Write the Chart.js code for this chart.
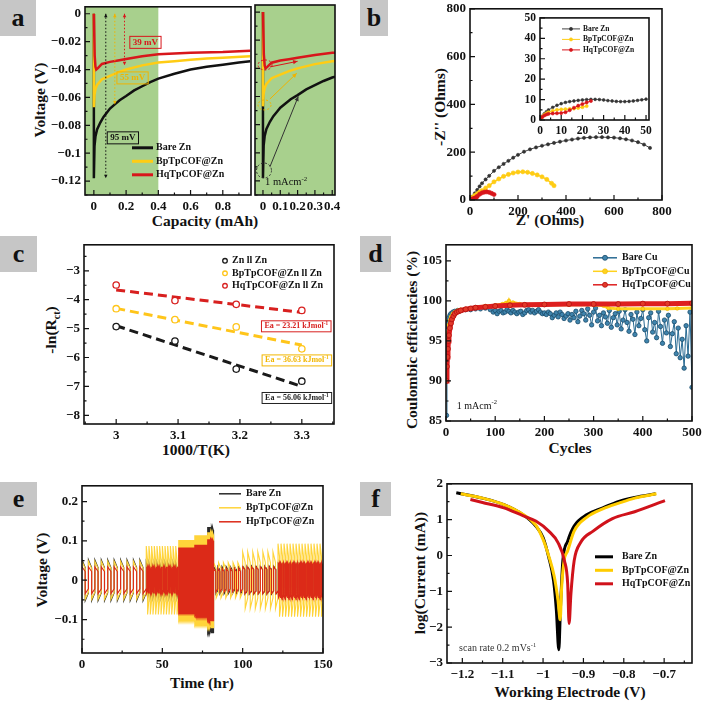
<!DOCTYPE html>
<html>
<head>
<meta charset="utf-8">
<script src="https://cdn.jsdelivr.net/npm/chart.js@4.4.1/dist/chart.umd.min.js"></script>
<style>
  html, body { margin: 0; padding: 0; background: #fff; }
  #page { position: relative; width: 705px; height: 706px; overflow: hidden; font-family: "Liberation Serif", "Times New Roman", serif; }
  #page canvas { position: absolute; }
  .tag { position: absolute; background: #c6c6c6; color: #111; font-weight: bold; font-size: 26px; display: flex; align-items: center; justify-content: center; }
  .ttl { position: absolute; color: #111; font-weight: bold; font-size: 15.5px; white-space: nowrap; transform: translate(-50%, -50%); }
  .ttl.rot { transform: translate(-50%, -50%) rotate(-90deg); }
  .ttl sub { font-size: 10px; }
</style>
</head>
<body>
<div id="page">
  <div class="tag" style="left:0;top:0;width:36px;height:36px">a</div>
  <div class="tag" style="left:360px;top:0;width:28px;height:36px">b</div>
  <div class="tag" style="left:0;top:236px;width:37px;height:36px">c</div>
  <div class="tag" style="left:360px;top:236px;width:31px;height:36px">d</div>
  <div class="tag" style="left:0;top:482px;width:37px;height:34px">e</div>
  <div class="tag" style="left:360px;top:482px;width:31px;height:34px">f</div>

  <div class="ttl rot" style="left:40px;top:100px">Voltage (V)</div>
  <div class="ttl" style="left:205px;top:221px">Capacity (mAh)</div>
  <div class="ttl rot" style="left:440px;top:107px">-Z'' (Ohms)</div>
  <div class="ttl" style="left:550px;top:220px">Z' (Ohms)</div>
  <div class="ttl rot" style="left:52px;top:330px">-ln(R<sub>ct</sub>)</div>
  <div class="ttl" style="left:196px;top:450px">1000/T(K)</div>
  <div class="ttl rot" style="left:412px;top:340px">Coulombic efficiencies (%)</div>
  <div class="ttl" style="left:570px;top:448px">Cycles</div>
  <div class="ttl rot" style="left:42px;top:570px">Voltage (V)</div>
  <div class="ttl" style="left:202px;top:683px">Time (hr)</div>
  <div class="ttl rot" style="left:420px;top:573px">log(Current (mA))</div>
  <div class="ttl" style="left:570px;top:692px">Working Electrode (V)</div>
</div>
<script>
// ---- (a) galvanostatic voltage vs capacity ----
const capBare = [0, 0, 0.004, 0.01, 0.02, 0.04, 0.06, 0.08, 0.1, 0.13, 0.16, 0.2, 0.25, 0.3, 0.35, 0.4, 0.5, 0.6, 0.7, 0.8, 0.9, 0.97];
const voltBare = [0, -0.118, -0.095, -0.088, -0.083, -0.078, -0.074, -0.071, -0.068, -0.065, -0.062, -0.059, -0.055, -0.052, -0.049, -0.0465, -0.043, -0.040, -0.038, -0.0365, -0.035, -0.034];
const capBp = [0, 0, 0.004, 0.01, 0.02, 0.05, 0.1, 0.15, 0.2, 0.3, 0.4, 0.5, 0.6, 0.7, 0.8, 0.97];
const voltBp = [0, -0.067, -0.058, -0.054, -0.051, -0.047, -0.0445, -0.042, -0.040, -0.037, -0.035, -0.034, -0.033, -0.032, -0.0315, -0.0305];
const capHq = [0, 0.005, 0.01, 0.015, 0.025, 0.05, 0.1, 0.15, 0.2, 0.3, 0.4, 0.5, 0.6, 0.8, 0.97];
const voltHq = [0, -0.030, -0.038, -0.040, -0.039, -0.036, -0.0345, -0.0335, -0.0325, -0.0305, -0.029, -0.0285, -0.028, -0.0275, -0.0265];

// ---- (b) Nyquist plots ----
const bareZ = [0, 5, 10, 20, 30, 40, 50, 65, 80, 100, 120, 140, 160, 180, 200, 225, 250, 275, 300, 325, 350, 375, 400, 425, 450, 475, 500, 525, 550, 575, 600, 625, 650, 675, 700, 725, 750];
const bareZi = [0, 7, 14, 28, 42, 57, 70, 86, 101, 122, 137, 151, 164, 177, 189, 202, 212, 220, 227, 233, 239, 244, 249, 253, 257, 260, 262, 263, 263, 262, 261, 258, 254, 249, 242, 232, 218];
const bpZ = [0, 5, 10, 20, 30, 40, 50, 65, 80, 100, 120, 140, 160, 180, 200, 220, 240, 260, 280, 300, 320, 340, 350];
const bpZi = [0, 6, 11, 19, 26, 33, 39, 50, 60, 76, 88, 99, 107, 113, 117, 118, 116, 111, 105, 97, 86, 70, 60];
const hqZ = [0, 3, 6, 10, 15, 20, 25, 30, 40, 50, 60, 70, 80, 90, 100];
const hqZi = [0, 3, 3.3, 3.4, 5.5, 7.8, 9.5, 15, 24, 30, 33, 34, 32, 28, 23];
// inset (0-50 Ohm)
const insetBareZ = [0, 1, 2, 3, 4, 6, 8, 10, 12, 14, 16, 18, 20, 22, 24, 26, 28, 30, 32, 34, 36, 38, 40, 42, 44, 46, 48, 50];
const insetBareZi = [0, 1.8, 3, 4, 4.9, 6.2, 7.2, 8, 8.6, 9, 9.3, 9.6, 9.8, 10, 10.1, 10.1, 10, 9.8, 9.5, 9.3, 9.1, 9.0, 9.0, 9.1, 9.3, 9.6, 9.9, 10.2];
const insetBpZ = [0, 1, 2, 3, 4, 6, 8, 10, 12, 14, 16, 18, 20, 22];
const insetBpZi = [0, 1.5, 2.5, 3.2, 3.8, 4.5, 5, 5.2, 5.3, 5.4, 5.6, 5.9, 6.3, 6.8];
const insetHqZ = [0, 1, 2, 3, 4, 6, 8, 10, 12, 14, 16, 18, 20, 22, 24];
const insetHqZi = [0, 1.4, 2.2, 2.7, 3, 3.2, 3.3, 3.4, 3.8, 4.8, 6, 7, 7.8, 8.6, 9.3];

// ---- (c) Arrhenius ----
const invT = [3.0, 3.095, 3.194, 3.3];
const lnZn = [-4.93, -5.43, -6.40, -6.82];
const lnBp = [-4.31, -4.69, -4.94, -5.70];
const lnHq = [-3.49, -4.03, -4.16, -4.37];
const fitT = [3.0, 3.3];
const fitZn = [-4.90, -7.00];
const fitBp = [-4.30, -5.57];
const fitHq = [-3.66, -4.44];

// ---- (d) Coulombic efficiency ----
const cycBareEarly = [1, 2, 3, 4, 6, 8, 10, 14, 18, 24, 30, 40, 50, 60, 70, 80, 90];
const ceBareEarly = [85.7, 95.8, 96.8, 97.4, 97.9, 98.2, 98.4, 98.6, 98.7, 98.8, 98.8, 98.9, 98.9, 99.0, 99.0, 99.1, 98.9];
// every 4th cycle from cycle 96 to 500
const ceBareLate = [
  98.6, 98.8, 98.4, 98.7, 98.8, 98.5, 98.6, 98.9, 98.7, 98.5, 98.8, 98.6,
  98.4, 98.6, 98.7, 98.3, 98.5, 98.8, 98.9, 98.6, 98.8, 98.5, 98.7, 98.9, 98.6, 98.4, 98.5,
  98.3, 98.6, 98.4, 97.9, 98.2, 98.5, 98.0, 98.6, 98.3, 97.8, 98.1, 98.4,
  97.6, 98.3, 97.9, 98.7, 97.4, 98.1, 98.8, 98.4, 97.6, 99.0, 98.2, 97.0, 98.6,
  99.1, 97.5, 98.2, 96.9, 98.5, 98.0, 97.2, 98.8, 96.7, 97.9, 98.4, 97.0,
  98.7, 96.5, 97.6, 98.9, 97.3, 96.2, 98.3, 97.7, 95.8, 98.6, 96.9, 97.8, 98.9,
  96.4, 95.0, 97.9, 98.5, 96.1, 97.3, 95.4, 98.7, 96.8, 94.7, 97.6, 96.0,
  98.2, 94.3, 95.9, 97.4, 93.4, 96.6, 92.9, 95.2, 91.6, 96.9, 93.1, 98.6, 89.2
];
const cycBp = [1, 2, 3, 4, 6, 8, 10, 14, 18, 24, 30, 40, 60, 80, 100, 115, 122, 126, 128, 131, 136, 150, 170, 200, 250, 300, 320, 330, 350, 400, 450, 470, 500];
const ceBp = [91.0, 94.0, 95.2, 96.0, 97.0, 97.6, 98.0, 98.4, 98.6, 98.8, 98.9, 99.0, 99.2, 99.35, 99.45, 99.6, 99.75, 99.7, 100.0, 99.6, 99.8, 99.6, 99.5, 99.5, 99.5, 99.5, 99.4, 99.1, 99.0, 99.0, 99.0, 99.05, 99.1];
const cycHq = [1, 2, 3, 4, 5, 6, 8, 10, 12, 15, 18, 22, 26, 30, 40, 50, 60, 80, 100, 130, 160, 200, 250, 300, 350, 400, 450, 500];
const ceHq = [90.0, 91.8, 93.0, 94.0, 95.0, 95.7, 96.6, 97.2, 97.7, 98.1, 98.4, 98.6, 98.7, 98.8, 98.95, 99.05, 99.15, 99.25, 99.35, 99.45, 99.5, 99.55, 99.6, 99.6, 99.6, 99.65, 99.65, 99.7];

// ---- (e) rate cycling: segments in hours, cycles per segment, spike / plateau voltage ----
const eSegStart = [0, 40, 60, 70, 78, 82, 100, 122];
const eSegEnd = [40, 60, 70, 78, 82, 100, 122, 150];
const eBareCycles = [10, 12, 16, 13, 6, 7, 8, 15];
const eBpCycles = [10, 12, 16, 13, 6, 6, 7, 15];
const eHqCycles = [10, 26, 16, 13, 6, 7, 8, 32];
const eBarePeak = [0.052, 0.045, 0.065, 0.075, 0.135, 0.035, 0.036, 0.042];
const eBarePlat = [0.032, 0.032, 0.060, 0.070, 0.128, 0.026, 0.028, 0.034];
const eBpPeak = [0.048, 0.087, 0.102, 0.114, 0.122, 0.045, 0.072, 0.093];
const eBpPlat = [0.030, 0.050, 0.095, 0.108, 0.116, 0.030, 0.045, 0.060];
const eHqPeak = [0.034, 0.034, 0.083, 0.090, 0.104, 0.030, 0.034, 0.045];
const eHqPlat = [0.022, 0.028, 0.078, 0.086, 0.100, 0.022, 0.027, 0.040];

// ---- (f) Tafel ----
const eBare = [-1.215, -1.15, -1.097, -1.05, -1.018, -1.0, -0.986, -0.974, -0.967, -0.961, -0.957, -0.951, -0.939, -0.923, -0.891, -0.852, -0.812, -0.773, -0.721];
const logBare = [1.75, 1.6, 1.42, 1.14, 0.82, 0.5, -0.05, -0.7, -1.53, -2.63, -1.5, -0.15, 0.4, 0.82, 1.14, 1.33, 1.51, 1.62, 1.72];
const eBp = [-1.204, -1.15, -1.097, -1.05, -1.018, -1.0, -0.986, -0.972, -0.963, -0.9575, -0.954, -0.948, -0.939, -0.923, -0.891, -0.852, -0.812, -0.773, -0.719];
const logBp = [1.72, 1.6, 1.42, 1.15, 0.85, 0.45, -0.01, -0.6, -1.25, -1.79, -0.9, -0.15, 0.13, 0.68, 1.07, 1.3, 1.46, 1.6, 1.72];
const eHq = [-1.18, -1.15, -1.097, -1.05, -1.018, -0.986, -0.963, -0.947, -0.939, -0.9355, -0.931, -0.923, -0.907, -0.876, -0.828, -0.773, -0.698];
const logHq = [1.56, 1.48, 1.33, 1.11, 0.96, 0.68, 0.36, -0.15, -0.79, -1.9, -1.07, -0.15, 0.36, 0.68, 1.03, 1.22, 1.53];

const SERIF = '"Liberation Serif", "Times New Roman", serif';
const INK = '#111';
const RED = '#d8161b';
const YEL = '#ffcc14';
const GREEN = '#a8d08d';
const BLUE = '#2a6b93';

Chart.defaults.font.family = SERIF;

const fmt = v => String(+v.toFixed(4)).replace('-', '\u2212');
const xy = (xs, ys) => xs.map((x, i) => ({x, y: ys[i]}));

// rich text: parts = [[text, isSuperscript], ...]
function richWidth(ctx, parts, size, weight) {
  let w = 0;
  parts.forEach(([t, sup]) => {
    ctx.font = `${weight} ${sup ? size * 0.65 : size}px ${SERIF}`;
    w += ctx.measureText(t).width;
  });
  return w;
}
function drawRich(ctx, parts, x, y, size, weight, color) {
  ctx.fillStyle = color;
  ctx.textBaseline = 'middle';
  ctx.textAlign = 'left';
  parts.forEach(([t, sup]) => {
    ctx.font = `${weight} ${sup ? size * 0.65 : size}px ${SERIF}`;
    ctx.fillText(t, x, sup ? y - size * 0.35 : y);
    x += ctx.measureText(t).width;
  });
}
function arrowHead(ctx, x0, y0, x1, y1, s) {
  const a = Math.atan2(y1 - y0, x1 - x0);
  ctx.beginPath();
  ctx.moveTo(x1, y1);
  ctx.lineTo(x1 - s * Math.cos(a - 0.45), y1 - s * Math.sin(a - 0.45));
  ctx.lineTo(x1 - s * Math.cos(a + 0.45), y1 - s * Math.sin(a + 0.45));
  ctx.closePath();
  ctx.fill();
}

// inward ticks (major + minor) and box frame
const framePlugin = {
  id: 'frame',
  afterDatasetsDraw(chart) {
    const {ctx, chartArea: a, scales} = chart;
    const marks = s => {
      const v = s.ticks.map(t => t.value);
      const out = v.map(t => [t, 5]);
      if (v.length > 1) {
        const st = v[1] - v[0];
        for (let m = v[0] - st / 2; m <= s.max; m += st) if (m >= s.min) out.push([m, 2.5]);
      }
      return out;
    };
    ctx.save();
    ctx.strokeStyle = INK;
    ctx.lineWidth = 1.2;
    ctx.beginPath();
    marks(scales.x).forEach(([v, len]) => {
      const p = scales.x.getPixelForValue(v);
      ctx.moveTo(p, a.bottom); ctx.lineTo(p, a.bottom - len);
    });
    marks(scales.y).forEach(([v, len]) => {
      const p = scales.y.getPixelForValue(v);
      ctx.moveTo(a.left, p); ctx.lineTo(a.left + len, p);
    });
    ctx.stroke();
    ctx.lineWidth = 1.6;
    ctx.strokeRect(a.left, a.top, a.right - a.left, a.bottom - a.top);
    ctx.restore();
  }
};

// annotations in data coordinates
function drawNotes(chart, under) {
  const list = chart.canvas.notes;
  if (!list) return;
  const {ctx, chartArea: a, scales: {x: sx, y: sy}} = chart;
  const X = v => sx.getPixelForValue(v), Y = v => sy.getPixelForValue(v);
  ctx.save();
  list.forEach(n => {
    if ((n.type === 'band') !== under) return;
    ctx.setLineDash([]);
    if (n.type === 'band') {
      const x0 = Math.max(a.left, X(n.from)), x1 = Math.min(a.right, X(n.to));
      ctx.fillStyle = n.color;
      ctx.fillRect(x0, a.top, x1 - x0, a.bottom - a.top);
    } else if (n.type === 'vspan') {
      const x = X(n.x), y0 = Y(n.y0), y1 = Y(n.y1);
      ctx.strokeStyle = n.color; ctx.fillStyle = n.color; ctx.lineWidth = 1;
      ctx.setLineDash([1.5, 2]);
      ctx.beginPath(); ctx.moveTo(x, y0); ctx.lineTo(x, y1); ctx.stroke();
      ctx.setLineDash([]);
      arrowHead(ctx, x, y1, x, y0, 4);
      arrowHead(ctx, x, y0, x, y1, 4);
    } else if (n.type === 'arrow') {
      const x0 = X(n.x0), y0 = Y(n.y0), x1 = X(n.x1), y1 = Y(n.y1);
      ctx.strokeStyle = n.color; ctx.fillStyle = n.color; ctx.lineWidth = 1;
      ctx.beginPath(); ctx.moveTo(x0, y0); ctx.lineTo(x1, y1); ctx.stroke();
      arrowHead(ctx, x0, y0, x1, y1, 5);
    } else if (n.type === 'ellipse') {
      ctx.strokeStyle = n.color; ctx.lineWidth = 1;
      ctx.setLineDash([2, 2]);
      ctx.beginPath(); ctx.ellipse(X(n.x), Y(n.y), n.rx, n.ry, 0, 0, Math.PI * 2); ctx.stroke();
    } else if (n.type === 'box') {
      const w = richWidth(ctx, n.parts, n.size, 'bold');
      const cx = X(n.x), cy = Y(n.y), h = n.size + 3;
      if (n.fill) { ctx.fillStyle = n.fill; ctx.fillRect(cx - w / 2 - 3, cy - h / 2, w + 6, h); }
      ctx.strokeStyle = n.color; ctx.lineWidth = 1;
      ctx.strokeRect(cx - w / 2 - 3, cy - h / 2, w + 6, h);
      drawRich(ctx, n.parts, cx - w / 2, cy, n.size, 'bold', n.color);
    } else if (n.type === 'text') {
      drawRich(ctx, n.parts, X(n.x), Y(n.y), n.size, 'normal', n.color);
    }
  });
  ctx.restore();
}
const notesPlugin = {
  id: 'notes',
  beforeDatasetsDraw(chart) { drawNotes(chart, true); },
  afterDatasetsDraw(chart) { drawNotes(chart, false); }
};

// legend placed inside the plot box
const keyPlugin = {
  id: 'key',
  afterDraw(chart) {
    const k = chart.canvas.key;
    if (!k) return;
    const {ctx, chartArea: a} = chart;
    const area = chart.canvas.area;
    const x0 = a.left + (k.x - area.l);
    let y = a.top + (k.y - area.t);
    ctx.save();
    chart.data.datasets.forEach(ds => {
      if (ds.noKey) return;
      if (k.mode !== 'dot') {
        ctx.strokeStyle = ds.borderColor; ctx.lineWidth = k.lw;
        ctx.beginPath(); ctx.moveTo(x0, y); ctx.lineTo(x0 + k.len, y); ctx.stroke();
      }
      if (k.mode !== 'line') {
        ctx.beginPath(); ctx.arc(x0 + k.len / 2, y, k.r, 0, Math.PI * 2);
        ctx.fillStyle = ds.pointBackgroundColor || ds.borderColor; ctx.fill();
        ctx.lineWidth = ds.pointBorderWidth || 1; ctx.strokeStyle = ds.pointBorderColor || ds.borderColor; ctx.stroke();
      }
      ctx.font = `bold ${k.size}px ${SERIF}`;
      ctx.fillStyle = INK; ctx.textBaseline = 'middle'; ctx.textAlign = 'left';
      ctx.fillText(ds.label, x0 + k.len + k.gap, y);
      y += k.dy;
    });
    ctx.restore();
  }
};

Chart.register(framePlugin, notesPlugin, keyPlugin);

function axis(min, max, step, show = true, size = 13) {
  return {
    type: 'linear', min, max,
    grid: {display: false, drawTicks: false},
    border: {display: false},
    ticks: {
      display: show, stepSize: step, includeBounds: false, autoSkip: false, maxRotation: 0, padding: 4,
      color: INK, font: {family: SERIF, size, weight: 'bold'}, callback: v => fmt(v)
    }
  };
}

function line(label, data, color, width, order, more) {
  return Object.assign({label, data, borderColor: color, backgroundColor: color, borderWidth: width,
    pointRadius: 0, order, fill: false}, more || {});
}

const page = document.getElementById('page');
// area = plot box in page pixels; the canvas is sized so the chart area lands exactly there
function makeChart(area, cfg, extra) {
  const yW = area.yW !== undefined ? area.yW : 45;
  const xH = area.xH !== undefined ? area.xH : 22;
  const pad = Object.assign({left: 0, top: 10, right: 16, bottom: 0}, area.pad || {});
  const cw = area.r - area.l + yW + pad.left + pad.right;
  const ch = area.b - area.t + xH + pad.top + pad.bottom;
  const cv = document.createElement('canvas');
  cv.width = cw; cv.height = ch;
  cv.style.left = (area.l - yW - pad.left) + 'px';
  cv.style.top = (area.t - pad.top) + 'px';
  cv.style.width = cw + 'px'; cv.style.height = ch + 'px';
  page.appendChild(cv);
  cv.area = area;
  cv.key = extra && extra.key;
  cv.notes = extra && extra.notes;
  const o = cfg.options;
  o.responsive = false;
  o.animation = false;
  o.devicePixelRatio = 1;
  o.layout = {padding: pad};
  o.plugins = {legend: {display: false}, tooltip: {enabled: false}};
  o.scales.x.afterFit = s => { s.height = xH; };
  o.scales.y.afterFit = s => { s.width = yW; };
  return new Chart(cv, cfg);
}

// (a) left
makeChart({l: 85, t: 5, r: 251, b: 195}, {
  type: 'line',
  data: {datasets: [
    line('Bare Zn', xy(capBare, voltBare), INK, 2.5, 2),
    line('BpTpCOF@Zn', xy(capBp, voltBp), YEL, 2.5, 1),
    line('HqTpCOF@Zn', xy(capHq, voltHq), RED, 2.5, 0)
  ]},
  options: {scales: {x: axis(-0.055, 0.975, 0.2), y: axis(-0.13, 0.005, 0.02)}}
}, {
  key: {x: 132, y: 146, dy: 13.5, len: 21, gap: 3, size: 10, lw: 3, mode: 'line'},
  notes: [
    {type: 'band', from: -1, to: 0.4, color: GREEN},
    {type: 'vspan', x: 0.074, y0: 0, y1: -0.118, color: INK},
    {type: 'vspan', x: 0.13, y0: 0, y1: -0.065, color: '#f0b400'},
    {type: 'vspan', x: 0.19, y0: 0, y1: -0.037, color: RED},
    {type: 'box', x: 0.32, y: -0.0205, parts: [['39 mV']], size: 9, color: RED},
    {type: 'box', x: 0.24, y: -0.046, parts: [['55 mV']], size: 9, color: '#f0b400'},
    {type: 'box', x: 0.18, y: -0.089, parts: [['95 mV']], size: 9, color: INK}
  ]
});

// (a) right, zoom of the first 0.4 mAh
makeChart({l: 255, t: 5, r: 335, b: 195, yW: 0, pad: {left: 6}}, {
  type: 'line',
  data: {datasets: [
    line('Bare Zn', xy(capBare, voltBare), INK, 2.5, 2),
    line('BpTpCOF@Zn', xy(capBp, voltBp), YEL, 2.5, 1),
    line('HqTpCOF@Zn', xy(capHq, voltHq), RED, 2.5, 0)
  ]},
  options: {scales: {x: axis(-0.046, 0.416, 0.1), y: axis(-0.13, 0.005, 0.02, false)}}
}, {
  notes: [
    {type: 'band', from: -1, to: 1, color: GREEN},
    {type: 'ellipse', x: 0.012, y: -0.0376, rx: 7, ry: 5, color: RED},
    {type: 'arrow', x0: 0.04, y0: -0.039, x1: 0.2, y1: -0.035, color: RED},
    {type: 'ellipse', x: 0.009, y: -0.066, rx: 6.5, ry: 5, color: '#f0b400'},
    {type: 'arrow', x0: 0.04, y0: -0.0618, x1: 0.195, y1: -0.0435, color: '#f0b400'},
    {type: 'ellipse', x: 0.006, y: -0.1126, rx: 7.5, ry: 7.5, color: '#333'},
    {type: 'arrow', x0: 0.04, y0: -0.11, x1: 0.204, y1: -0.06, color: '#333'},
    {type: 'text', x: 0.012, y: -0.1212, parts: [['1 mAcm'], ['-2', 1]], size: 10.5, color: INK}
  ]
});

// (b) Nyquist
const dotted = (c, r) => ({pointRadius: r, pointBackgroundColor: c, pointBorderColor: c, pointBorderWidth: 0.6});
makeChart({l: 470, t: 7, r: 662, b: 200}, {
  type: 'line',
  data: {datasets: [
    line('Bare Zn', xy(bareZ, bareZi), '#444', 1, 2, dotted('#333', 1.6)),
    line('BpTpCOF@Zn', xy(bpZ, bpZi), YEL, 1.5, 1, dotted(YEL, 2.1)),
    line('HqTpCOF@Zn', xy(hqZ, hqZi), RED, 1.5, 0, dotted(RED, 2.1))
  ]},
  options: {scales: {x: axis(0, 800, 200), y: axis(0, 800, 200)}}
});
makeChart({l: 540, t: 13, r: 649, b: 120, yW: 20, xH: 16, pad: {top: 6, right: 8}}, {
  type: 'line',
  data: {datasets: [
    line('Bare Zn', xy(insetBareZ, insetBareZi), '#444', 0.8, 2, dotted('#333', 1.4)),
    line('BpTpCOF@Zn', xy(insetBpZ, insetBpZi), YEL, 1, 1, dotted(YEL, 1.6)),
    line('HqTpCOF@Zn', xy(insetHqZ, insetHqZi), RED, 1, 0, dotted(RED, 1.6))
  ]},
  options: {scales: {x: axis(0, 51.4, 10, true, 11.5), y: axis(0, 50, 10, true, 11.5)}}
}, {
  key: {x: 562, y: 24, dy: 10.5, len: 18, gap: 3, size: 7.5, lw: 1, r: 1.6, mode: 'linedot'}
});

// (c) Arrhenius
const open = c => ({showLine: false, pointRadius: 3.2, pointBorderWidth: 1.3, pointBorderColor: c, pointBackgroundColor: '#fff'});
const dash = {borderDash: [9, 5], noKey: true};
makeChart({l: 84, t: 243, r: 334, b: 424}, {
  type: 'line',
  data: {datasets: [
    line('Zn ll Zn', xy(invT, lnZn), '#1a1a1a', 1, 0, open('#1a1a1a')),
    line('BpTpCOF@Zn ll Zn', xy(invT, lnBp), '#ffc51a', 1, 0, open('#ffc51a')),
    line('HqTpCOF@Zn ll Zn', xy(invT, lnHq), '#d8201f', 1, 0, open('#d8201f')),
    line('fit Zn', xy(fitT, fitZn), '#1a1a1a', 3, 1, dash),
    line('fit Bp', xy(fitT, fitBp), '#ffc51a', 3, 1, dash),
    line('fit Hq', xy(fitT, fitHq), '#d8201f', 3, 1, dash)
  ]},
  options: {scales: {x: axis(2.948, 3.352, 0.1), y: axis(-8.3, -2.1, 1)}}
}, {
  key: {x: 222, y: 259, dy: 12.5, len: 6, gap: 4, size: 10, r: 2.3, mode: 'dot'},
  notes: [
    {type: 'box', x: 3.291, y: -4.92, parts: [['Ea = 23.21 kJmol'], ['-1', 1]], size: 8, color: '#d8201f', fill: '#fff'},
    {type: 'box', x: 3.292, y: -6.10, parts: [['Ea = 36.63 kJmol'], ['-1', 1]], size: 8, color: '#f2b600', fill: '#fff'},
    {type: 'box', x: 3.292, y: -7.40, parts: [['Ea = 56.06 kJmol'], ['-1', 1]], size: 8, color: '#222', fill: '#fff'}
  ]
});

// (d) Coulombic efficiency
const bareCE = xy(cycBareEarly, ceBareEarly).concat(ceBareLate.map((v, i) => ({x: 96 + 4 * i, y: v})));
makeChart({l: 446, t: 243, r: 692, b: 421}, {
  type: 'line',
  data: {datasets: [
    line('Bare Cu', bareCE, BLUE, 1, 2, {pointRadius: 2.2, pointBackgroundColor: '#3f84ad', pointBorderColor: '#1c4d6b', pointBorderWidth: 0.8}),
    line('BpTpCOF@Cu', xy(cycBp, ceBp), '#ffd21f', 3, 1, {pointRadius: 1.8, pointBackgroundColor: '#ffd21f', pointBorderColor: '#f0b800', pointBorderWidth: 0.6}),
    line('HqTpCOF@Cu', xy(cycHq, ceHq), '#de1f1f', 5, 0, {pointRadius: 2.5, pointBackgroundColor: '#e23a2a', pointBorderColor: '#b50f0f', pointBorderWidth: 0.8})
  ]},
  options: {scales: {x: axis(0, 500, 100), y: axis(85, 107, 5)}}
}, {
  key: {x: 593, y: 256, dy: 13.5, len: 24, gap: 5, size: 10, lw: 1.5, r: 2.5, mode: 'linedot'},
  notes: [
    {type: 'text', x: 22, y: 86.85, parts: [['1 mAcm'], ['-2', 1]], size: 10, color: INK}
  ]
});

// (e) rate cycling, each cycle drawn as spike then plateau on both half-cycles
function cycling(cycles, peak, plat) {
  const pts = [];
  eSegStart.forEach((t0, i) => {
    const per = (eSegEnd[i] - t0) / cycles[i];
    for (let k = 0; k < cycles[i]; k++) {
      const t = t0 + k * per;
      pts.push({x: t, y: peak[i]}, {x: t + per / 2, y: plat[i]}, {x: t + per / 2, y: -peak[i]}, {x: t + per, y: -plat[i]});
    }
  });
  return pts;
}
makeChart({l: 82, t: 484, r: 323, b: 653}, {
  type: 'line',
  data: {datasets: [
    line('Bare Zn', cycling(eBareCycles, eBarePeak, eBarePlat), '#2a2a2a', 1.1, 2),
    line('BpTpCOF@Zn', cycling(eBpCycles, eBpPeak, eBpPlat), '#ffd43a', 1.1, 1),
    line('HpTpCOF@Zn', cycling(eHqCycles, eHqPeak, eHqPlat), '#dc2a18', 1.1, 0)
  ]},
  options: {scales: {x: axis(0, 150, 50), y: axis(-0.185, 0.24, 0.1)}}
}, {
  key: {x: 219, y: 492, dy: 14, len: 22, gap: 5, size: 10, lw: 1.5, mode: 'line'}
});

// (f) Tafel
const smooth = {cubicInterpolationMode: 'monotone'};
makeChart({l: 447, t: 482, r: 692, b: 663}, {
  type: 'line',
  data: {datasets: [
    line('Bare Zn', xy(eBare, logBare), '#000', 3, 2, smooth),
    line('BpTpCOF@Zn', xy(eBp, logBp), '#ffcc00', 3, 1, smooth),
    line('HqTpCOF@Zn', xy(eHq, logHq), '#d0121b', 3, 0, smooth)
  ]},
  options: {scales: {x: axis(-1.238, -0.631, 0.1), y: axis(-3, 2, 1)}}
}, {
  key: {x: 595, y: 555, dy: 13.5, len: 18, gap: 9, size: 10, lw: 3, mode: 'line'},
  notes: [
    {type: 'text', x: -1.208, y: -2.6, parts: [['scan rate 0.2 mVs'], ['-1', 1]], size: 10, color: '#333'}
  ]
});
</script>
</body>
</html>
